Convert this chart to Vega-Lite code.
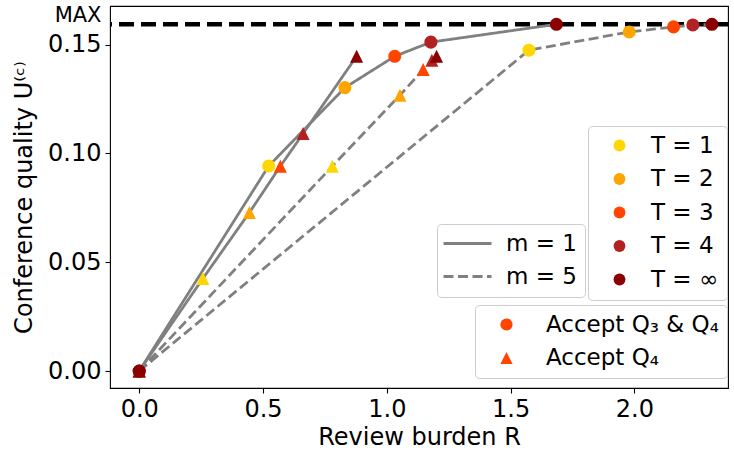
{
  "$schema": "https://vega.github.io/schema/vega-lite/v6.json",
  "width": 618,
  "height": 382,
  "autosize": "none",
  "padding": {"left": 110, "top": 6, "right": 6, "bottom": 62},
  "background": "white",
  "config": {
    "font": "DejaVu Sans",
    "view": {"stroke": "black", "strokeWidth": 1.1},
    "axis": {
      "grid": false,
      "domain": false,
      "tickColor": "black",
      "tickWidth": 1.1,
      "tickSize": 5,
      "labelColor": "black",
      "labelFont": "DejaVu Sans",
      "labelFontSize": 24,
      "labelPadding": 4,
      "titleFont": "DejaVu Sans",
      "titleFontSize": 24,
      "titleFontWeight": "normal",
      "titleColor": "black"
    },
    "legend": {
      "orient": "none",
      "title": null,
      "labelFont": "DejaVu Sans",
      "labelFontSize": 23,
      "labelColor": "black",
      "labelLimit": 400,
      "fillColor": "rgba(255,255,255,0.8)",
      "strokeColor": "#cccccc",
      "cornerRadius": 4,
      "padding": 8,
      "rowPadding": 9.5,
      "labelOffset": 28,
      "symbolOffset": 12
    }
  },
  "datasets": {
    "points": [
      {"m": "m = 1", "accept": "Accept Q₄", "T": "T = ∞", "R": 0, "U": 0},
      {"m": "m = 1", "accept": "Accept Q₄", "T": "T = 1", "R": 0.257, "U": 0.0425},
      {"m": "m = 1", "accept": "Accept Q₄", "T": "T = 2", "R": 0.445, "U": 0.0728},
      {"m": "m = 1", "accept": "Accept Q₄", "T": "T = 3", "R": 0.570, "U": 0.0941},
      {"m": "m = 1", "accept": "Accept Q₄", "T": "T = 4", "R": 0.662, "U": 0.1091},
      {"m": "m = 1", "accept": "Accept Q₄", "T": "T = ∞", "R": 0.878, "U": 0.1446},
      {"m": "m = 5", "accept": "Accept Q₄", "T": "T = ∞", "R": 0, "U": 0},
      {"m": "m = 5", "accept": "Accept Q₄", "T": "T = 1", "R": 0.780, "U": 0.0941},
      {"m": "m = 5", "accept": "Accept Q₄", "T": "T = 2", "R": 1.053, "U": 0.1267},
      {"m": "m = 5", "accept": "Accept Q₄", "T": "T = 3", "R": 1.147, "U": 0.1385},
      {"m": "m = 5", "accept": "Accept Q₄", "T": "T = 4", "R": 1.182, "U": 0.1428},
      {"m": "m = 5", "accept": "Accept Q₄", "T": "T = ∞", "R": 1.201, "U": 0.1446},
      {"m": "m = 1", "accept": "Accept Q₃ & Q₄", "T": "T = ∞", "R": 0, "U": 0},
      {"m": "m = 1", "accept": "Accept Q₃ & Q₄", "T": "T = 1", "R": 0.523, "U": 0.0942},
      {"m": "m = 1", "accept": "Accept Q₃ & Q₄", "T": "T = 2", "R": 0.831, "U": 0.1302},
      {"m": "m = 1", "accept": "Accept Q₃ & Q₄", "T": "T = 3", "R": 1.032, "U": 0.1446},
      {"m": "m = 1", "accept": "Accept Q₃ & Q₄", "T": "T = 4", "R": 1.178, "U": 0.1511},
      {"m": "m = 1", "accept": "Accept Q₃ & Q₄", "T": "T = ∞", "R": 1.685, "U": 0.1593},
      {"m": "m = 5", "accept": "Accept Q₃ & Q₄", "T": "T = ∞", "R": 0, "U": 0},
      {"m": "m = 5", "accept": "Accept Q₃ & Q₄", "T": "T = 1", "R": 1.574, "U": 0.1474},
      {"m": "m = 5", "accept": "Accept Q₃ & Q₄", "T": "T = 2", "R": 1.979, "U": 0.1558},
      {"m": "m = 5", "accept": "Accept Q₃ & Q₄", "T": "T = 3", "R": 2.158, "U": 0.1581},
      {"m": "m = 5", "accept": "Accept Q₃ & Q₄", "T": "T = 4", "R": 2.236, "U": 0.1590},
      {"m": "m = 5", "accept": "Accept Q₃ & Q₄", "T": "T = ∞", "R": 2.313, "U": 0.1593}
    ],
    "max": [{"U": 0.1593}]
  },
  "layer": [
    {
      "data": {"name": "max"},
      "mark": {"type": "rule", "color": "black", "strokeWidth": 4.5, "strokeDash": [15, 7]},
      "encoding": {
        "y": {
          "field": "U", "type": "quantitative",
          "scale": {"domain": [-0.0078, 0.1677], "nice": false, "zero": false},
          "axis": {
            "title": "Conference quality U⁽ᶜ⁾",
            "titlePadding": 11,
            "values": [0, 0.05, 0.1, 0.15, 0.1593],
            "labelExpr": "datum.value > 0.155 ? 'MAX' : format(datum.value, '.2f')",
            "tickOpacity": {"condition": {"test": "datum.value > 0.155", "value": 0}, "value": 1},
            "labelFontSize": {"condition": {"test": "datum.value > 0.155", "value": 21}, "value": 24},
            "labelOffset": {"condition": {"test": "datum.value > 0.155", "value": -9}, "value": 0}
          }
        }
      }
    },
    {
      "data": {"name": "points"},
      "mark": {"type": "line", "color": "#808080", "strokeWidth": 2.8},
      "encoding": {
        "x": {
          "field": "R", "type": "quantitative",
          "scale": {"domain": [-0.118, 2.378], "nice": false, "zero": false},
          "axis": {"title": "Review burden R", "values": [0, 0.5, 1, 1.5, 2], "format": ".1f", "titlePadding": 4}
        },
        "y": {"field": "U", "type": "quantitative"},
        "detail": {"field": "accept"},
        "strokeDash": {
          "field": "m", "type": "nominal",
          "scale": {"domain": ["m = 1", "m = 5"], "range": [[1, 0], [10, 4.5]]},
          "legend": {
            "legendX": 327, "legendY": 218,
            "symbolType": "M-4,0H4",
            "symbolSize": 144,
            "symbolStrokeColor": "#808080",
            "symbolStrokeWidth": 2.8,
            "symbolOffset": 11,
            "labelOffset": 27,
            "rowPadding": 9
          }
        }
      }
    },
    {
      "data": {"name": "points"},
      "mark": {"type": "point", "filled": true, "opacity": 1, "size": 170},
      "encoding": {
        "x": {"field": "R", "type": "quantitative"},
        "y": {"field": "U", "type": "quantitative"},
        "color": {
          "field": "T", "type": "nominal",
          "scale": {"domain": ["T = 1", "T = 2", "T = 3", "T = 4", "T = ∞"], "range": ["#FFD700", "#FFA500", "#FF4500", "#B22222", "#8B0000"]},
          "legend": {"legendX": 478, "legendY": 120, "symbolType": "circle", "symbolSize": 140, "labelOffset": 20}
        },
        "shape": {
          "field": "accept", "type": "nominal",
          "scale": {"domain": ["Accept Q₃ & Q₄", "Accept Q₄"], "range": ["circle", "M0,-1L-1,1L1,1Z"]},
          "legend": {"legendX": 365, "legendY": 299, "symbolSize": 150, "symbolFillColor": "#FF4500", "symbolStrokeColor": "#FF4500", "symbolStrokeWidth": 0}
        }
      }
    }
  ]
}
